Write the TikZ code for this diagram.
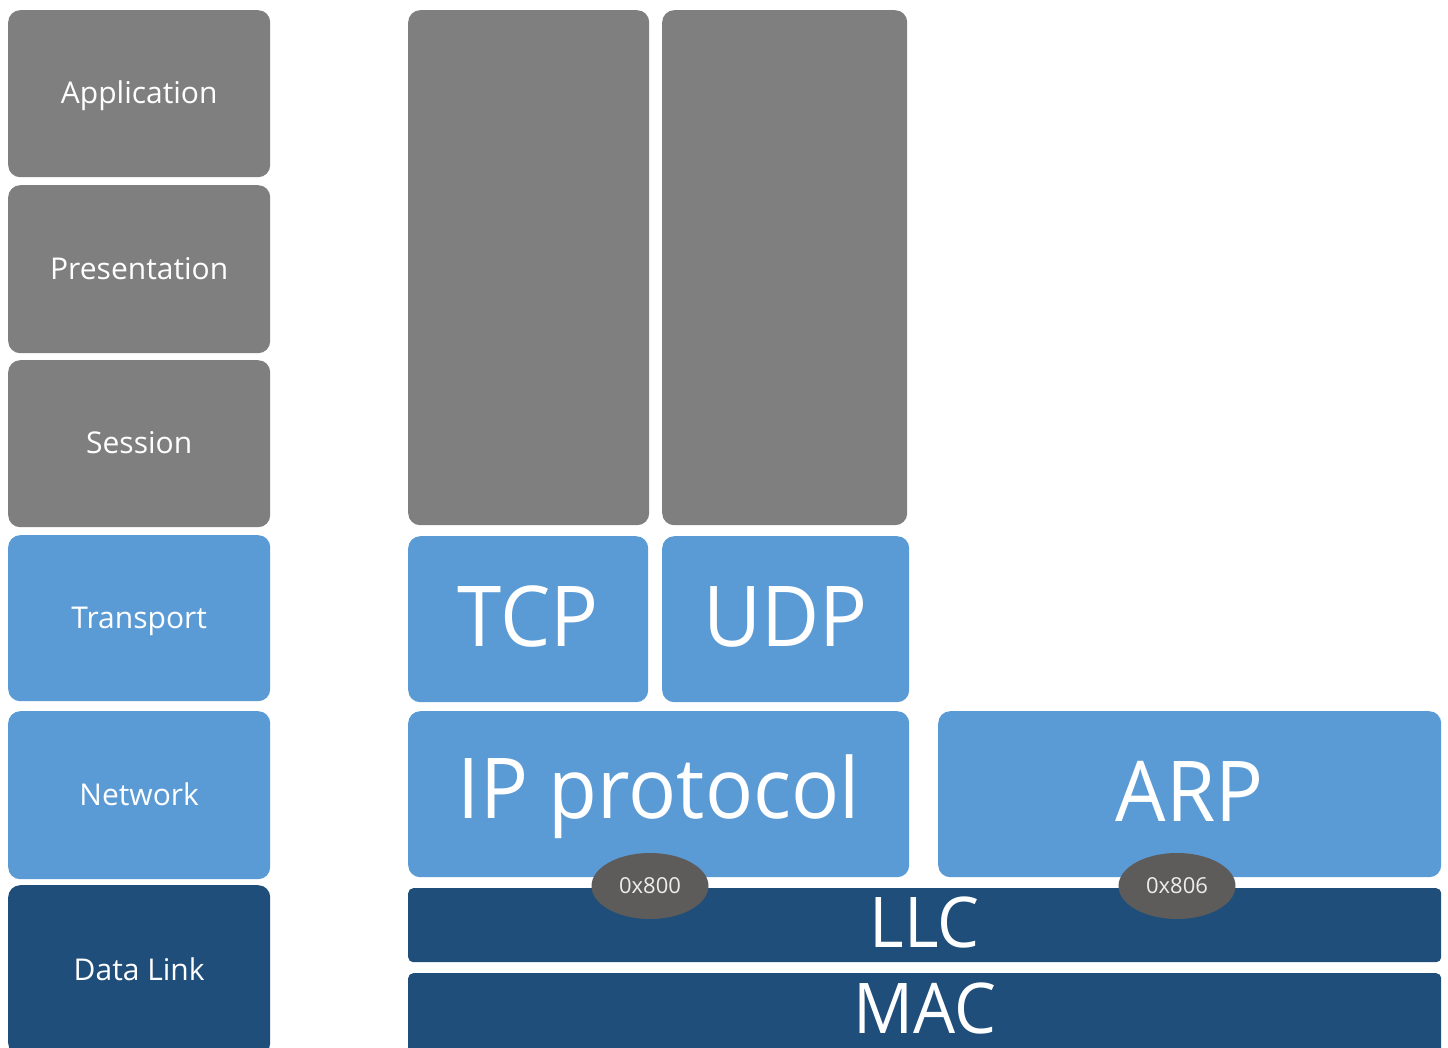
\documentclass[tikz,border=0pt]{standalone}
\usepackage{fontspec}
\setmainfont{Open Sans}[FakeStretch=0.95]
\newfontfamily\labelfont{Open Sans}
\usetikzlibrary{shapes.geometric}
\definecolor{layergray}{HTML}{7F7F7F}
\definecolor{layerblue}{HTML}{5B9BD5}
\definecolor{layernavy}{HTML}{1E4E79}
\definecolor{tagfill}{HTML}{5E5C5A}
\begin{document}
\begin{tikzpicture}[x=1pt,y=-1pt,
  layer/.style={rectangle, rounded corners=12pt, inner sep=0pt, text=white, anchor=north west},
  osi/.style={layer, minimum width=262pt, font=\labelfont\fontsize{30pt}{30pt}\selectfont, text height=21pt, text depth=1pt},
  proto/.style={layer, font=\fontsize{84pt}{84pt}\selectfont, text height=60pt, text depth=6pt},
  link/.style={layer, rounded corners=5pt, minimum width=1033pt, font=\fontsize{70pt}{70pt}\selectfont, text height=50pt, text depth=6pt},
  tag/.style={ellipse, fill=tagfill, inner sep=0pt, minimum width=117pt, minimum height=66pt, text=white!93!black, font=\labelfont\fontsize{22pt}{22pt}\selectfont, text height=15pt, text depth=0pt},
]
\useasboundingbox (0,0) rectangle (1448,1048);
\clip (0,0) rectangle (1448,1048);

% OSI reference column
\node[osi, fill=layergray, minimum height=167pt] (app)   at (8,10)  {Application};
\node[osi, fill=layergray, minimum height=168pt] (pres)  at (8,185) {Presentation};
\node[osi, fill=layergray, minimum height=167pt] (sess)  at (8,360) {Session};
\node[osi, fill=layerblue, minimum height=166pt] (trans) at (8,535) {Transport};
\node[osi, fill=layerblue, minimum height=168pt] (net)   at (8,711) {Network};
\node[osi, fill=layernavy, minimum height=170pt] (dl)    at (8,885) {Data Link};

% upper layers above the transport protocols
\node[layer, fill=layergray, minimum width=241pt, minimum height=515pt] (uppl) at (408,10) {};
\node[layer, fill=layergray, minimum width=245pt, minimum height=515pt] (uppr) at (662,10) {};

% transport and network protocols
\node[proto, fill=layerblue, minimum width=240pt, minimum height=166pt] (tcp) at (408,536) {TCP};
\node[proto, fill=layerblue, minimum width=247pt, minimum height=166pt] (udp) at (662,536) {UDP};
\node[proto, fill=layerblue, minimum width=501pt, minimum height=166pt, text depth=12pt] (ip) at (408,711) {IP protocol};
\node[proto, fill=layerblue, minimum width=503pt, minimum height=166pt] (arp) at (938,711) {ARP};

% data link sublayers
\node[link, fill=layernavy, minimum height=74pt] (llc) at (408,888) {LLC};
\node[link, fill=layernavy, minimum height=85pt, text depth=15pt] (mac) at (408,973) {MAC};

% EtherType tags
\node[tag] (t800) at (650,886)  {0x800};
\node[tag] (t806) at (1177,886) {0x806};
\end{tikzpicture}
\end{document}
